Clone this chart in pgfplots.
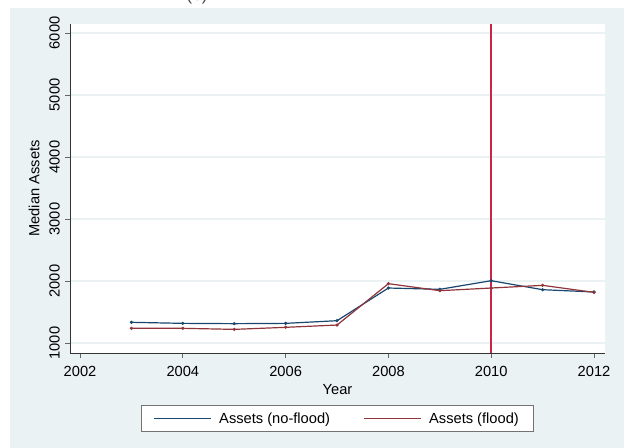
\documentclass[border=0pt]{standalone}
\usepackage{pgfplots}
\pgfplotsset{compat=1.18}
\usepackage{fontspec}
\setmainfont{Liberation Sans}

\definecolor{bgcol}{RGB}{234,242,243}
\definecolor{gridcol}{RGB}{234,242,243}
\definecolor{stblue}{RGB}{26,71,111}
\definecolor{stred}{RGB}{144,53,59}
\definecolor{floodred}{RGB}{205,35,70}

\begin{document}
\fontsize{11}{13}\selectfont
\begin{tikzpicture}
    % 1 px of the reference = 0.75pt
    \begin{scope}[x=0.75pt, y=-0.75pt]
        \useasboundingbox (0,0) rectangle (624,448);
        \fill[bgcol] (10,8) rectangle (624,448);
        \node[anchor=base, font=\fontsize{13}{15}\selectfont, text=black!70] at (197,1) {(b)};
    \end{scope}
    \begin{axis}[
            at={(52.5pt,-264.75pt)},
            anchor=south west,
            scale only axis,
            width=401.25pt,
            height=246.75pt,
            xmin=2001.805, xmax=2012.214,
            ymin=839, ymax=6145,
            xtick={2002,2004,...,2012},
            ytick={1000,2000,...,6000},
            axis lines*=left,
            axis line style={black!80, line width=0.6pt},
            tick align=outside,
            major tick length=3.75pt,
            tick style={black!60, line width=0.6pt},
            xtick pos=bottom,
            ytick pos=left,
            ymajorgrids,
            grid style={gridcol, line width=1pt},
            axis background/.style={fill=white},
            /pgf/number format/assume math mode=true,
            /pgf/number format/1000 sep={},
            xticklabel style={font=\fontsize{11}{13}\selectfont, yshift=-2pt},
            yticklabel style={font=\fontsize{11}{13}\selectfont, rotate=90, anchor=south},
            xlabel={Year},
            ylabel={Median Assets},
            xlabel style={font=\fontsize{11}{13}\selectfont, yshift=1.5pt},
            ylabel style={font=\fontsize{11}{13}\selectfont},
            legend columns=2,
            legend style={
                    at={(0.5,-0.2)}, anchor=center,
                    draw=black!55, fill=white, line width=0.6pt,
                    font=\fontsize{11}{13}\selectfont,
                    inner xsep=9pt, inner ysep=3pt,
                    /tikz/every odd column/.append style={column sep=3.75pt},
                    /tikz/every even column/.append style={column sep=23pt},
                },
            legend cell align=left,
            clip=false,
        ]
        \addlegendimage{legend image code/.code={\draw[stblue, line width=0.8pt] (0pt,0pt) -- (42.75pt,0pt);}}
        \addlegendentry{Assets (no-flood)}
        \addlegendimage{legend image code/.code={\draw[stred, line width=0.8pt] (0pt,0pt) -- (42.75pt,0pt);}}
        \addlegendentry{Assets (flood)}
        % reference line at 2010
        \addplot[draw=floodred, line width=1.5pt, forget plot] coordinates {(2010,839) (2010,6145)};
        \addplot[stblue, line width=0.9pt, mark=*, mark size=0.7pt, forget plot] coordinates {
                (2003,1334) (2004,1317) (2005,1312) (2006,1317) (2007,1360)
                (2008,1887) (2009,1866) (2010,2005) (2011,1860) (2012,1823)
            };
        \addplot[stred, line width=0.9pt, mark=*, mark size=0.7pt, forget plot] coordinates {
                (2003,1237) (2004,1237) (2005,1220) (2006,1253) (2007,1290)
                (2008,1957) (2009,1844) (2010,1887) (2011,1930) (2012,1817)
            };
    \end{axis}
\end{tikzpicture}
\end{document}
